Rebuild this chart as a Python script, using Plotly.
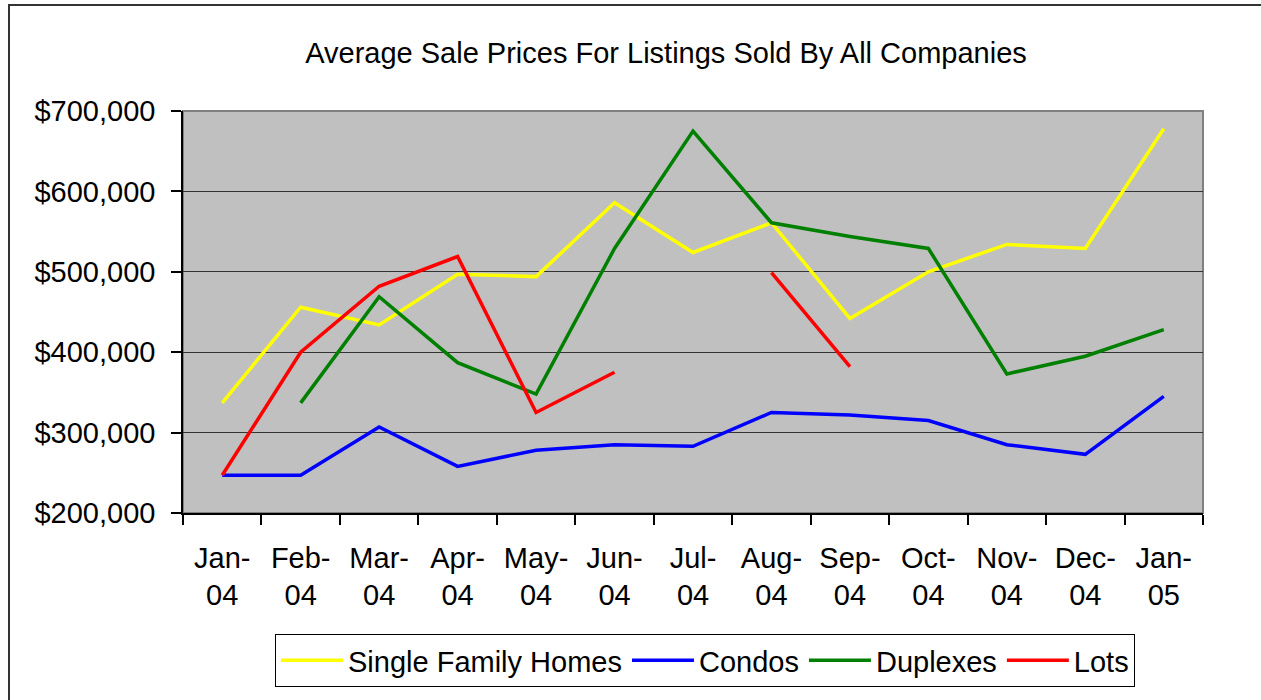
import plotly.graph_objects as go

months = ["Jan-<br>04", "Feb-<br>04", "Mar-<br>04", "Apr-<br>04", "May-<br>04", "Jun-<br>04",
          "Jul-<br>04", "Aug-<br>04", "Sep-<br>04", "Oct-<br>04", "Nov-<br>04", "Dec-<br>04", "Jan-<br>05"]

single_family = [337000, 456000, 434000, 497000, 494000, 586000, 524000, 561000, 442000, 500000, 534000, 529000, 678000]
condos = [247000, 247000, 307000, 258000, 278000, 285000, 283000, 325000, 322000, 315000, 285000, 273000, 345000]
duplexes = [None, 337000, 469000, 387000, 348000, 529000, 675000, 561000, 544000, 529000, 373000, 395000, 428000]
lots = [247000, 400000, 482000, 519000, 325000, 375000, None, 499000, 382000, None, None, None, None]

series = [
    ("Single Family Homes", single_family, "#FFFF00"),
    ("Condos", condos, "#0000FF"),
    ("Duplexes", duplexes, "#008000"),
    ("Lots", lots, "#FF0000"),
]

FONT = "Liberation Sans, Arial, sans-serif"
FS = 29

fig = go.Figure()
for name, vals, color in series:
    fig.add_trace(go.Scatter(x=months, y=vals, name=name, mode="lines",
                             line=dict(color=color, width=3.5), connectgaps=False))

L, R, T, B = 183, 1203, 111, 513
W, H = 1261, 700
pw, ph = R - L, B - T

def px(x):
    return (x - L) / pw

def py(y):
    return (B - y) / ph

fig.update_layout(
    width=W, height=H,
    margin=dict(l=L, r=W - R, t=T, b=H - B, pad=0),
    paper_bgcolor="white",
    plot_bgcolor="#C0C0C0",
    font=dict(family=FONT, color="black", size=FS),
    title=dict(text="Average Sale Prices For Listings Sold By All Companies",
               x=px(666), xref="paper", xanchor="center",
               y=1 - 53 / H, yref="container", yanchor="middle",
               font=dict(size=FS, family=FONT, color="black")),
    showlegend=True,
    legend=dict(orientation="h", x=px(705), xanchor="center", y=py(634), yanchor="top",
                bordercolor="black", borderwidth=1, bgcolor="white",
                font=dict(size=FS, family=FONT, color="black"),
                itemwidth=62,
                traceorder="normal"),
    xaxis=dict(type="category", showgrid=False, showline=True, linecolor="black", linewidth=1.5,
               ticks="outside", tickson="boundaries", ticklen=10, tickcolor="black", tickwidth=1.5,
               ticklabelstandoff=18,
               tickfont=dict(size=FS, family=FONT), range=[-0.5, 12.5], fixedrange=True),
    yaxis=dict(range=[200000, 700000], dtick=100000, tickformat="$,.0f",
               showgrid=True, gridcolor="#333333", gridwidth=1,
               showline=True, linecolor="black", linewidth=1.5,
               ticks="outside", ticklen=10, tickcolor="black", tickwidth=1.5,
               ticklabelstandoff=10,
               tickfont=dict(size=FS, family=FONT), zeroline=False, fixedrange=True),
    shapes=[
        dict(type="rect", xref="paper", yref="paper", x0=0, x1=1, y0=0, y1=1,
             line=dict(color="#808080", width=2), fillcolor="rgba(0,0,0,0)", layer="below"),
        dict(type="rect", xref="paper", yref="paper", x0=px(9), x1=px(1266), y0=py(706), y1=py(5),
             line=dict(color="#333333", width=2), fillcolor="rgba(0,0,0,0)"),
    ],
)

fig.write_html("out.html")
